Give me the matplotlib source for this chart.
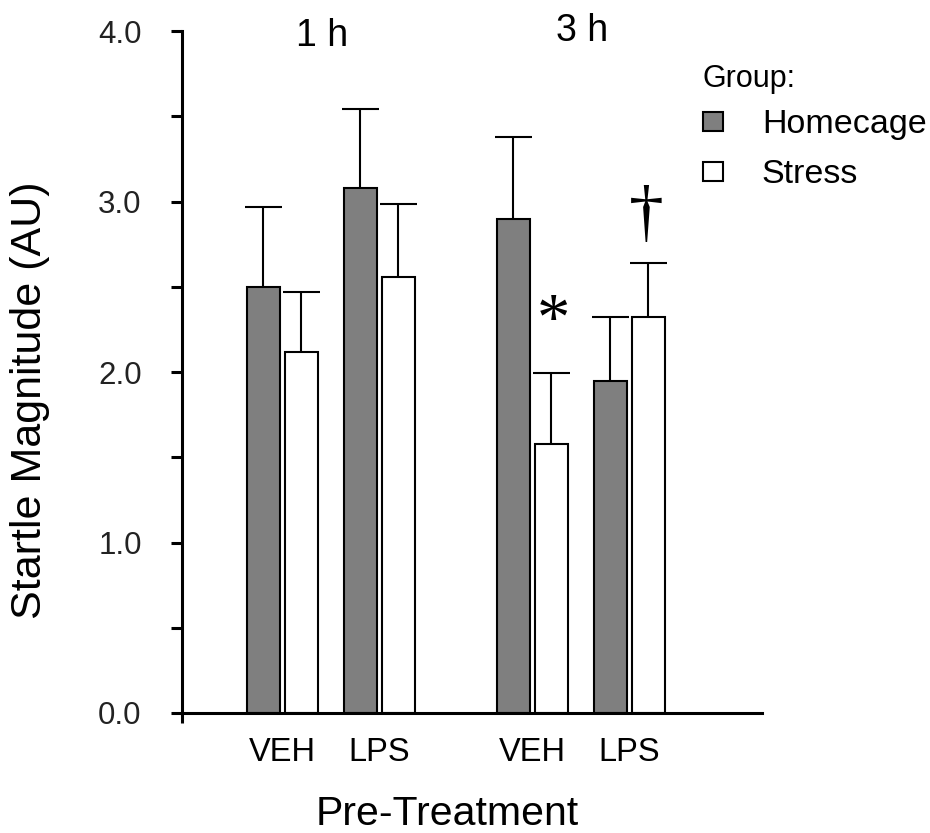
import matplotlib
matplotlib.use("Agg")
import matplotlib.pyplot as plt
from matplotlib.patches import Patch
import numpy as np

plt.rcParams['font.family'] = ['Liberation Sans', 'DejaVu Sans']

# ---- data ----
timepoints = ["1 h", "3 h"]
treatments = ["VEH", "LPS"]
tick_labels = ["VEH", "LPS", "VEH", "LPS"]
homecage_mean = [2.50, 3.08, 2.90, 1.95]
homecage_err = [0.47, 0.46, 0.48, 0.37]
stress_mean = [2.12, 2.56, 1.58, 2.32]
stress_err = [0.35, 0.425, 0.415, 0.32]
y_ticks = [0.0, 1.0, 2.0, 3.0, 4.0]
y_minor = [0.5, 1.5, 2.5, 3.5]

# ---- layout ----
W, H = 930, 833
fig = plt.figure(figsize=(W / 100, H / 100), dpi=100)
ax = fig.add_axes([182 / W, 1 - 713 / H, 580 / W, 682 / H])

time_offset = 2.5
treat_offset = 0.97
centers = np.array([t * time_offset + k * treat_offset
                    for t in range(len(timepoints)) for k in range(len(treatments))])
bw = 0.33
off = 0.19
cap_half = 0.185

ax.bar(centers - off, homecage_mean, width=bw, color="#7f7f7f",
       edgecolor="black", linewidth=1.5, zorder=2)
ax.bar(centers + off, stress_mean, width=bw, color="white",
       edgecolor="black", linewidth=1.5, zorder=2)

for xs, m, e in [(centers - off, homecage_mean, homecage_err),
                 (centers + off, stress_mean, stress_err)]:
    m = np.array(m); e = np.array(e)
    ax.vlines(xs, m, m + e, color="black", linewidth=1.5, zorder=1.5)
    ax.hlines(m + e, xs - cap_half, xs + cap_half, color="black",
              linewidth=1.5, zorder=1.5)

ax.set_xlim(-1.0, 4.8)
ax.set_ylim(0, 4.0)

for s in ["top", "right"]:
    ax.spines[s].set_visible(False)
for s in ["left", "bottom"]:
    ax.spines[s].set_linewidth(2.2)
    ax.spines[s].set_zorder(5)

ax.set_yticks(y_ticks)
ax.set_yticklabels([f"{v:.1f}" for v in y_ticks])
ax.set_yticks(y_minor, minor=True)
ax.tick_params(axis="y", which="both", direction="out", length=8, width=2.2,
               pad=21, labelsize=22.5, labelcolor="#222222")

ax.set_xticks(centers)
ax.set_xticklabels(tick_labels)
ax.set_xticks([-1.0], minor=True)
ax.tick_params(axis="x", which="major", length=0, pad=17, labelsize=23.5)
ax.tick_params(axis="x", which="minor", direction="out", length=7, width=2.2)

# time labels
time_centers = [t * time_offset + treat_offset / 2 for t in range(len(timepoints))]
ax.text(time_centers[0] - 0.08, 3.97, timepoints[0], ha="center", va="center",
        fontsize=27, clip_on=False)
ax.text(time_centers[1] + 0.02, 4.00, timepoints[1], ha="center", va="center",
        fontsize=27, clip_on=False)

# significance marks
ax.text(centers[2] + off + 0.02, 2.29, "*", ha="center", va="center",
        fontsize=48, family=["Liberation Serif", "DejaVu Serif"])
ax.text(centers[3] + off - 0.02, 2.91, "\u2020", ha="center", va="center",
        fontsize=50, family=["Liberation Serif", "DejaVu Serif"])

# axis labels
fig.text(30 / W, 1 - 400 / H, "Startle Magnitude (AU)", rotation=90,
         ha="center", va="center", fontsize=31)
fig.text(447 / W, 1 - 814 / H, "Pre-Treatment", ha="center", va="center",
         fontsize=29.5)

# legend
handles = [Patch(facecolor="#7f7f7f", edgecolor="black", linewidth=1.5, label="Homecage"),
           Patch(facecolor="white", edgecolor="black", linewidth=1.5, label="Stress")]
leg = ax.legend(handles=handles, title="Group:", title_fontsize=22, fontsize=24.5,
                loc="upper left", bbox_to_anchor=(703 / W, 1 - 64 / H),
                bbox_transform=fig.transFigure, frameon=False, borderpad=0,
                borderaxespad=0, handlelength=0.58, handleheight=0.5,
                handletextpad=1.15, labelspacing=0.56, alignment="left")
leg._legend_box.sep = 11

fig.savefig("out.png", dpi=100)
